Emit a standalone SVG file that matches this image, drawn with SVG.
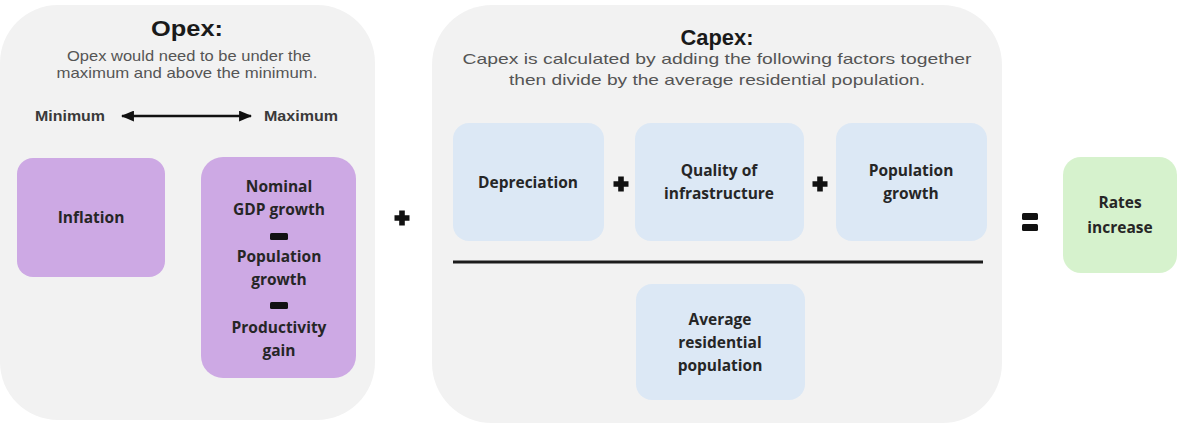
<svg xmlns="http://www.w3.org/2000/svg" width="1177" height="425" viewBox="0 0 1177 425">
  <defs>
    <style>
      .panel { fill: #f2f2f2; }
      .title { font-family: "Liberation Sans", Arial, sans-serif; font-weight: bold; fill: #1a1a1a; text-anchor: middle; }
      .sub { font-family: "Liberation Sans", Arial, sans-serif; font-size: 15px; fill: #555; text-anchor: middle; }
      .axis { font-family: "Liberation Sans", Arial, sans-serif; font-size: 14.5px; font-weight: bold; fill: #3a3a3a; }
      .lbl { font-family: "Open Sans", "Liberation Sans", sans-serif; font-weight: bold; font-size: 15.5px; fill: #262626; text-anchor: middle; }
      .purple { fill: #cda9e4; }
      .blue { fill: #dce8f5; }
      .green { fill: #d6f2cd; }
      .op { fill: #111; }
    </style>
    <marker id="head" viewBox="0 0 12 10" refX="11" refY="5" markerWidth="13" markerHeight="11" orient="auto-start-reverse" markerUnits="userSpaceOnUse">
      <path d="M0,0 L12,5 L0,10 Z" fill="#111"/>
    </marker>
    <path id="plus" d="M-2.8,-7.5 H2.8 V-2.8 H7.5 V2.8 H2.8 V7.5 H-2.8 V2.8 H-7.5 V-2.8 H-2.8 Z"/>
  </defs>

  <!-- Opex panel -->
  <g id="opex">
    <rect class="panel" x="0" y="5" width="375" height="415" rx="58"/>
    <text class="title" x="187" y="36" font-size="22" textLength="72" lengthAdjust="spacingAndGlyphs">Opex:</text>
    <text class="sub" x="189" y="61" textLength="244" lengthAdjust="spacingAndGlyphs">Opex would need to be under the</text>
    <text class="sub" x="187" y="78" textLength="261" lengthAdjust="spacingAndGlyphs">maximum and above the minimum.</text>
    <text class="axis" x="35" y="121" textLength="70" lengthAdjust="spacingAndGlyphs">Minimum</text>
    <text class="axis" x="264" y="121" textLength="74" lengthAdjust="spacingAndGlyphs">Maximum</text>
  </g>

  <g id="inflation">
    <rect class="purple" x="17" y="158" width="148" height="119" rx="16"/>
    <text class="lbl" x="91" y="223">Inflation</text>
  </g>

  <g id="opex-factors">
    <rect class="purple" x="201" y="157" width="155" height="221" rx="22"/>
    <text class="lbl" x="279" y="192">Nominal</text>
    <text class="lbl" x="279" y="215">GDP growth</text>
    <rect class="op" x="270" y="233" width="18" height="7" rx="1.5"/>
    <text class="lbl" x="279" y="262">Population</text>
    <text class="lbl" x="279" y="285">growth</text>
    <rect class="op" x="270" y="302" width="18" height="7" rx="1.5"/>
    <text class="lbl" x="279" y="333">Productivity</text>
    <text class="lbl" x="279" y="356">gain</text>
  </g>

  <!-- Capex panel -->
  <g id="capex">
    <rect class="panel" x="432" y="5" width="570" height="418" rx="60"/>
    <text class="title" x="717" y="45" font-size="22" textLength="73" lengthAdjust="spacingAndGlyphs">Capex:</text>
    <text class="sub" x="717" y="64" font-size="16" textLength="509" lengthAdjust="spacingAndGlyphs">Capex is calculated by adding the following factors together</text>
    <text class="sub" x="717" y="85" font-size="16" textLength="416" lengthAdjust="spacingAndGlyphs">then divide by the average residential population.</text>
  </g>

  <g id="depreciation">
    <rect class="blue" x="453" y="123" width="151" height="118" rx="16"/>
    <text class="lbl" x="528" y="188">Depreciation</text>
  </g>

  <g id="quality">
    <rect class="blue" x="635" y="123" width="169" height="118" rx="16"/>
    <text class="lbl" x="719" y="176">Quality of</text>
    <text class="lbl" x="719" y="199">infrastructure</text>
  </g>

  <g id="population-growth">
    <rect class="blue" x="836" y="123" width="151" height="118" rx="16"/>
    <text class="lbl" x="911" y="176">Population</text>
    <text class="lbl" x="911" y="199">growth</text>
  </g>

  <g id="average-population">
    <rect class="blue" x="636" y="284" width="169" height="116" rx="16"/>
    <text class="lbl" x="720" y="325">Average</text>
    <text class="lbl" x="720" y="348">residential</text>
    <text class="lbl" x="720" y="371">population</text>
  </g>

  <g id="rates-increase">
    <rect class="green" x="1063" y="157" width="114" height="116" rx="18"/>
    <text class="lbl" x="1120" y="208">Rates</text>
    <text class="lbl" x="1120" y="233">increase</text>
  </g>

  <!-- arrow, division bar and operators -->
  <g id="connectors">
    <line x1="122" y1="116" x2="251" y2="116" stroke="#111" stroke-width="2.5" marker-start="url(#head)" marker-end="url(#head)"/>
    <line x1="453" y1="262" x2="983" y2="262" stroke="#1c1c1c" stroke-width="3"/>
    <use href="#plus" class="op" x="402" y="218"/>
    <use href="#plus" class="op" x="621" y="184"/>
    <use href="#plus" class="op" x="820" y="184"/>
    <rect class="op" x="1022" y="213" width="16" height="7" rx="1.5"/>
    <rect class="op" x="1022" y="224" width="16" height="7" rx="1.5"/>
  </g>
</svg>
